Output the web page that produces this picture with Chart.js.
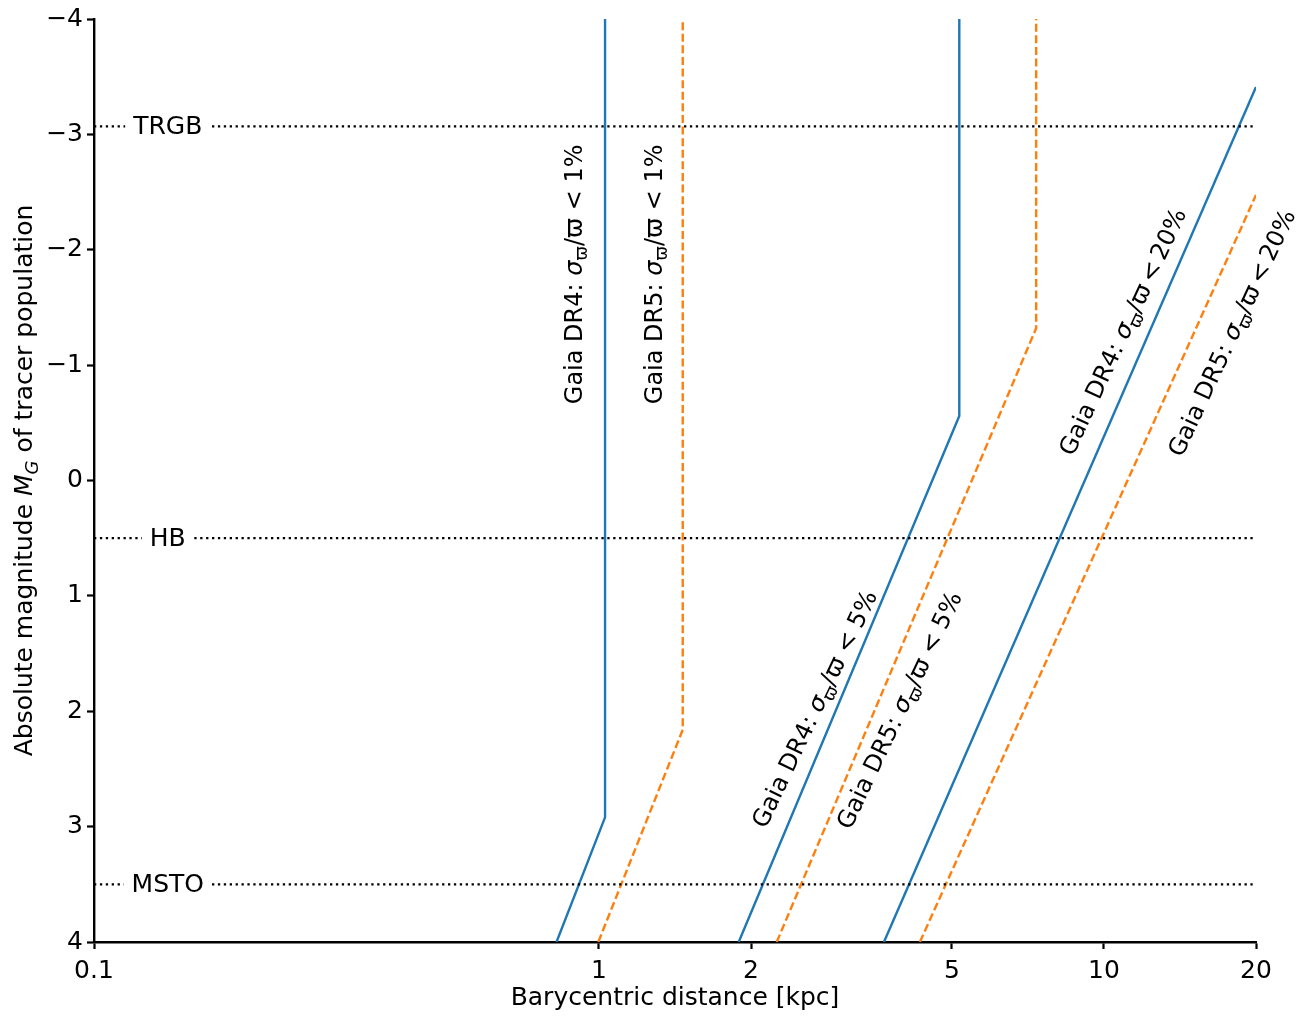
<!DOCTYPE html>
<html><head><meta charset="utf-8">
<script src="https://cdn.jsdelivr.net/npm/chart.js@4.4.1/dist/chart.umd.min.js"></script>
<style>html,body{margin:0;padding:0;background:#fff;} canvas{display:block;}</style>
</head><body>
<canvas id="c" width="1314" height="1020"></canvas>
<script>
// ---------------- data ----------------
const xTickValues = [0.1, 1, 2, 5, 10, 20];
const yTickValues = [-4, -3, -2, -1, 0, 1, 2, 3, 4];
const xRange = [0.1, 20];
const yRange = [-4, 4];

const dr4_1_dist = [0.824, 1.028, 1.028];
const dr4_1_mag  = [4.0, 2.92, -4.0];
const dr5_1_dist = [0.997, 1.465, 1.465];
const dr5_1_mag  = [4.0, 2.16, -4.0];
const dr4_5_dist = [1.891, 5.17, 5.17];
const dr4_5_mag  = [4.0, -0.56, -4.0];
const dr5_5_dist = [2.249, 7.34, 7.34];
const dr5_5_mag  = [4.0, -1.32, -4.0];
const dr4_20_dist = [3.667, 20];
const dr4_20_mag  = [4.0, -3.41];
const dr5_20_dist = [4.32, 20];
const dr5_20_mag  = [4.0, -2.475];

const refNames = ['TRGB', 'HB', 'MSTO'];
const refMags  = [-3.07, 0.5, 3.5];
const refLabelDist = 0.14;

// curve labels: text parts, anchor (distance, magnitude), rotation (deg)
const curveLabelParts = [
  [['Gaia DR4: ','n'],['σ','i'],['ϖ','sub'],['/ϖ','n'],[' < 1%','n']],
  [['Gaia DR5: ','n'],['σ','i'],['ϖ','sub'],['/ϖ','n'],[' < 1%','n']],
  [['Gaia DR4: ','n'],['σ','i'],['ϖ','sub'],['/ϖ','n'],[' < 5%','n']],
  [['Gaia DR5: ','n'],['σ','i'],['ϖ','sub'],['/ϖ','n'],[' < 5%','n']],
  [['Gaia DR4: ','n'],['σ','i'],['ϖ','sub'],['/ϖ','n'],['\u2009<\u200920%','n']],
  [['Gaia DR5: ','n'],['σ','i'],['ϖ','sub'],['/ϖ','n'],['\u2009<\u200920%','n']]
];
const curveLabelDist = [0.925, 1.331, 2.76, 4.06, 11.25, 18.5];
const curveLabelMag  = [-1.787, -1.787, 2.01, 2.02, -1.26, -1.25];
const curveLabelRot  = [90, 90, 64.5, 64.5, 65, 65];

const yTitleParts = [['Absolute magnitude ','n'],['M','i'],['G','isub'],[' of tracer population','n']];
const xTitleText = 'Barycentric distance [kpc]';

// ---------------- styling ----------------
const BLUE = '#1f77b4', ORANGE = '#ff7f0e';
const FAM = '"DejaVu Sans", sans-serif';
const FS = 25;
const LFS = 24;
const LW = 2.4;

function pts(xs, ys) { return xs.map((x, i) => ({x: x, y: ys[i]})); }
function curve(xs, ys, color, dashed) {
  return { data: pts(xs, ys), showLine: true, borderColor: color, borderWidth: LW,
           borderDash: dashed ? [8, 3.6] : [], pointRadius: 0, fill: false, tension: 0 };
}

const datasets = [];
refMags.forEach(m => datasets.push({
  data: pts(xRange, [m, m]), showLine: true, borderColor: '#000', borderWidth: 2.3,
  borderDash: [2.3, 3.6], pointRadius: 0, fill: false
}));
datasets.push(curve(dr4_1_dist, dr4_1_mag, BLUE, false));
datasets.push(curve(dr5_1_dist, dr5_1_mag, ORANGE, true));
datasets.push(curve(dr4_5_dist, dr4_5_mag, BLUE, false));
datasets.push(curve(dr5_5_dist, dr5_5_mag, ORANGE, true));
datasets.push(curve(dr4_20_dist, dr4_20_mag, BLUE, false));
datasets.push(curve(dr5_20_dist, dr5_20_mag, ORANGE, true));

function fontFor(style, size) {
  if (style === 'i') return 'italic ' + size + 'px ' + FAM;
  if (style === 'sub') return (size * 0.72) + 'px ' + FAM;
  if (style === 'isub') return 'italic ' + (size * 0.72) + 'px ' + FAM;
  return size + 'px ' + FAM;
}
function drawRich(ctx, parts, x, y, rotDeg, size) {
  ctx.save();
  ctx.translate(x, y);
  ctx.rotate(-rotDeg * Math.PI / 180);
  ctx.textBaseline = 'alphabetic';
  ctx.textAlign = 'left';
  ctx.fillStyle = '#000';
  let total = 0;
  const ws = parts.map(p => { ctx.font = fontFor(p[1], size); const w = ctx.measureText(p[0]).width; total += w; return w; });
  let cx = -total / 2;
  parts.forEach((p, i) => {
    ctx.font = fontFor(p[1], size);
    const dy = (p[1] === 'sub' || p[1] === 'isub') ? size * 0.22 : 0;
    ctx.fillText(p[0], cx, dy);
    cx += ws[i];
  });
  ctx.restore();
}

const annotPlugin = {
  id: 'annot',
  afterDatasetsDraw(chart) {
    const ctx = chart.ctx, xs = chart.scales.x, ys = chart.scales.y;
    ctx.save();
    ctx.font = FS + 'px ' + FAM;
    ctx.textAlign = 'center';
    ctx.textBaseline = 'middle';
    refNames.forEach((n, i) => {
      const px = xs.getPixelForValue(refLabelDist), py = ys.getPixelForValue(refMags[i]);
      const w = ctx.measureText(n).width;
      ctx.fillStyle = '#fff';
      ctx.fillRect(px - w / 2 - 8, py - 13, w + 16, 26);
      ctx.fillStyle = '#000';
      ctx.fillText(n, px, py + 1);
    });
    ctx.restore();
    curveLabelParts.forEach((parts, i) => {
      drawRich(ctx, parts, xs.getPixelForValue(curveLabelDist[i]), ys.getPixelForValue(curveLabelMag[i]), curveLabelRot[i], LFS);
    });
    drawRich(ctx, yTitleParts, 32, (chart.chartArea.top + chart.chartArea.bottom) / 2, 90, FS);
  }
};

const tickFont = { family: FAM, size: FS };
new Chart(document.getElementById('c'), {
  type: 'scatter',
  data: { datasets: datasets },
  options: {
    responsive: false,
    animation: false,
    layout: { padding: { top: 19, right: 58, left: 0, bottom: 0 } },
    plugins: { legend: { display: false }, tooltip: { enabled: false } },
    scales: {
      x: {
        type: 'logarithmic', min: xRange[0], max: xRange[1],
        afterBuildTicks: s => { s.ticks = xTickValues.map(v => ({ value: v })); },
        afterFit: s => { s.height = 78; },
        ticks: { autoSkip: false, maxRotation: 0, font: tickFont, color: '#000', padding: 7,
                 callback: v => String(v) },
        grid: { drawOnChartArea: false, drawTicks: true, tickLength: 7, tickWidth: 2.2, tickColor: '#000' },
        border: { display: true, color: '#000', width: 2.4 },
        title: { display: true, text: xTitleText, font: tickFont, color: '#000', padding: { top: 0, bottom: 7 } }
      },
      y: {
        type: 'linear', min: yRange[0], max: yRange[1], reverse: true,
        afterBuildTicks: s => { s.ticks = yTickValues.map(v => ({ value: v })); },
        afterFit: s => { s.width = 94; },
        ticks: { autoSkip: false, font: tickFont, color: '#000', padding: 4,
                 callback: v => (v < 0 ? '\u2212' + Math.abs(v) : String(v)) },
        grid: { drawOnChartArea: false, drawTicks: true, tickLength: 7, tickWidth: 2.2, tickColor: '#000' },
        border: { display: true, color: '#000', width: 2.4 }
      }
    }
  },
  plugins: [annotPlugin]
});
</script>
</body></html>
